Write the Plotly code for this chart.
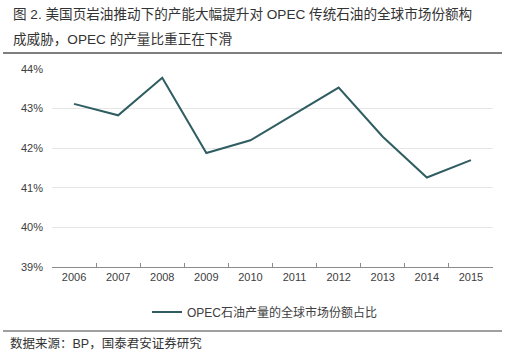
import plotly.graph_objects as go

years = ["2006", "2007", "2008", "2009", "2010", "2011", "2012", "2013", "2014", "2015"]
opec_share = [43.12, 42.83, 43.78, 41.88, 42.20, 42.87, 43.53, 42.29, 41.26, 41.70]
series_name = "OPEC石油产量的全球市场份额占比"
y_ticks = [39, 40, 41, 42, 43, 44]
y_tick_labels = ["39%", "40%", "41%", "42%", "43%", "44%"]

FONT = "Liberation Sans, Noto Sans CJK SC, sans-serif"
L, R, T, B = 52, 15, 69, 87
W, H = 508, 354
pw, ph = W - L - R, H - T - B

def px2x(p):
    return (p - L) / pw

def px2y(p):
    return (H - B - p) / ph

fig = go.Figure()
fig.add_trace(go.Scatter(
    x=years, y=opec_share, mode="lines", name=series_name,
    line=dict(color="#2F5D61", width=2),
))

fig.update_layout(
    width=W, height=H,
    margin=dict(l=L, r=R, t=T, b=B),
    paper_bgcolor="white", plot_bgcolor="white",
    font=dict(family=FONT, color="#404040", size=11),
    showlegend=True,
    legend=dict(orientation="h", x=px2x(265), xanchor="center", y=px2y(312), yanchor="middle",
                font=dict(size=12, color="#404040"), itemwidth=30, bgcolor="rgba(0,0,0,0)"),
    xaxis=dict(type="category", range=[-0.5, 9.5], showgrid=False, showline=True,
               linecolor="#8C8C8C", linewidth=1, ticks="inside", ticklen=4, tickcolor="#8C8C8C",
               tickson="boundaries", tickfont=dict(size=11, color="#404040"), fixedrange=True),
    yaxis=dict(range=[39, 44], tickvals=y_ticks, ticktext=y_tick_labels, showgrid=True,
               gridcolor="#E6E6E6", gridwidth=1, zeroline=False, showline=False,
               tickfont=dict(size=11, color="#404040"), ticks="", ticklabelstandoff=8),
    shapes=[
        dict(type="line", xref="paper", yref="paper", x0=px2x(3), x1=px2x(502),
             y0=px2y(53), y1=px2y(53), line=dict(color="#7F7F7F", width=2)),
        dict(type="line", xref="paper", yref="paper", x0=px2x(3), x1=px2x(502),
             y0=px2y(331), y1=px2y(331), line=dict(color="#7F7F7F", width=1.5)),
    ],
    annotations=[
        dict(text="图 2. 美国页岩油推动下的产能大幅提升对 OPEC 传统石油的全球市场份额构",
             xref="paper", yref="paper", x=px2x(11), y=px2y(14), xanchor="left", yanchor="middle",
             showarrow=False, font=dict(size=13.6, color="#333333")),
        dict(text="成威胁，OPEC 的产量比重正在下滑",
             xref="paper", yref="paper", x=px2x(11), y=px2y(39), xanchor="left", yanchor="middle",
             showarrow=False, font=dict(size=13.6, color="#333333")),
        dict(text="数据来源：BP，国泰君安证券研究",
             xref="paper", yref="paper", x=px2x(8), y=px2y(343), xanchor="left", yanchor="middle",
             showarrow=False, font=dict(size=12.5, color="#333333")),
    ],
)

fig.write_html("out.html")
